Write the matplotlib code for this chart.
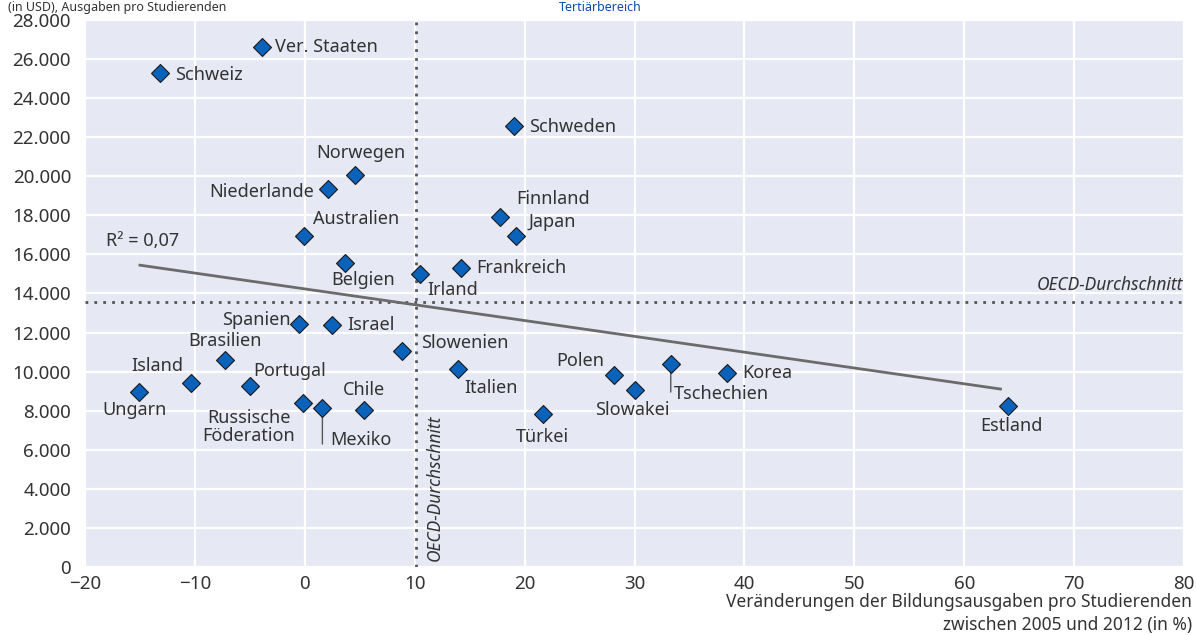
import matplotlib
matplotlib.use("Agg")
import matplotlib.pyplot as plt
from matplotlib.ticker import FuncFormatter

plt.rcParams['font.family'] = ['Noto Sans', 'DejaVu Sans']

countries = ["Ver. Staaten", "Schweiz", "Schweden", "Norwegen", "Niederlande", "Finnland",
             "Japan", "Australien", "Belgien", "Irland", "Frankreich", "Spanien", "Israel",
             "Slowenien", "Brasilien", "Island", "Ungarn", "Portugal", "Russische\nFöderation",
             "Mexiko", "Chile", "Italien", "Türkei", "Polen", "Slowakei", "Tschechien",
             "Korea", "Estland"]
change_pct = [-3.9, -13.2, 19.0, 4.6, 2.1, 17.8, 19.2, -0.1, 3.7, 10.5, 14.2, -0.5, 2.5,
              8.8, -7.3, -10.4, -15.1, -5.0, -0.2, 1.6, 5.4, 13.9, 21.7, 28.1, 30.0, 33.3,
              38.4, 64.0]
spend = [26600, 25300, 22550, 20050, 19330, 17900, 16950, 16950, 15550, 15000, 15300,
         12450, 12400, 11050, 10600, 9430, 8970, 9270, 8400, 8150, 8030, 10130, 7830,
         9830, 9070, 10400, 9930, 8240]

trend_x = [-15.0, 63.3]
trend_y = [15450, 9110]
oecd_x = 10.1
oecd_y = 13550
r2_text = "R² = 0,07"

# label offsets in pixels (dx, dy up), alignment
label_style = {
    "Ver. Staaten": (13, 0, 'left'), "Schweiz": (15, -2, 'left'), "Schweden": (15, -1, 'left'),
    "Norwegen": (6, 22, 'center'), "Niederlande": (-14, -3, 'right'),
    "Finnland": (16, 18, 'left'), "Japan": (13, 14, 'left'), "Australien": (9, 17, 'left'),
    "Belgien": (18, -17, 'center'), "Irland": (7, -16, 'left'), "Frankreich": (15, 0, 'left'),
    "Spanien": (-9, 4, 'right'), "Israel": (15, 0, 'left'), "Slowenien": (20, 8, 'left'),
    "Brasilien": (0, 19, 'center'), "Island": (-7, 17, 'right'), "Ungarn": (-4, -18, 'center'),
    "Portugal": (3, 15, 'left'), "Russische\nFöderation": (-54, -24, 'center'),
    "Mexiko": (8, -32, 'left'), "Chile": (0, 20, 'center'), "Italien": (7, -19, 'left'),
    "Türkei": (-1, -23, 'center'), "Polen": (-9, 14, 'right'), "Slowakei": (-2, -20, 'center'),
    "Tschechien": (3, -30, 'left'), "Korea": (15, 0, 'left'), "Estland": (3, -20, 'center'),
}
leaders = {"Mexiko": 39, "Tschechien": 31}

txt = '#333333'
fs = 13
fig = plt.figure(figsize=(11.96, 6.35), dpi=100)
ax = fig.add_axes([85/1196, 1-567/635, (1184-85)/1196, (567-20)/635])
ax.set_facecolor('#E6E8F4')
ax.set_xlim(-20, 80)
ax.set_ylim(0, 28000)
ax.set_xticks(range(-20, 81, 10))
ax.set_yticks(range(0, 28001, 2000))
ax.yaxis.set_major_formatter(FuncFormatter(lambda v, p: f"{int(v):,}".replace(",", ".")))
ax.xaxis.set_major_formatter(FuncFormatter(lambda v, p: f"{int(v)}".replace("-", "\u2212")))
ax.grid(True, color='white', lw=1.6)
ax.set_axisbelow(True)
for s in ax.spines.values():
    s.set_visible(False)
ax.tick_params(length=0, labelsize=13.5, colors=txt)
ax.tick_params(axis='x', pad=6)
ax.tick_params(axis='y', pad=10)

ax.axvline(oecd_x, color='#555555', ls=(0, (1, 2.2)), lw=2, zorder=2)
ax.axhline(oecd_y, color='#555555', ls=(0, (1, 2.2)), lw=2, zorder=2)
ax.plot(trend_x, trend_y, color='#6b6b6b', lw=2, zorder=3)

for c, x, y in zip(countries, change_pct, spend):
    dx, dy, ha = label_style[c]
    ax.annotate(c, (x, y), xytext=(dx, dy), textcoords='offset pixels', ha=ha, va='center',
                fontsize=fs, color=txt, zorder=5, linespacing=1.0)
    if c in leaders:
        ax.annotate('', (x, y), xytext=(0, -leaders[c]), textcoords='offset pixels',
                    arrowprops=dict(arrowstyle='-', color='#555555', lw=1), zorder=3)

ax.plot(change_pct, spend, ls='none', marker='D', ms=9, mfc='#0A62BA', mec='#1a1a1a',
        mew=0.8, zorder=6, clip_on=False)

ax.text(-18.1, 16680, r2_text, fontsize=fs, color=txt, va='center', ha='left')
ax.text(79.9, 14420, "OECD-Durchschnitt", fontsize=fs - 0.5, color=txt, style='italic',
        ha='right', va='center')
ax.text(11.8, 300, "OECD-Durchschnitt", fontsize=fs - 0.5, color=txt, style='italic',
        rotation=90, ha='center', va='bottom')

ax.set_xlabel("Veränderungen der Bildungsausgaben pro Studierenden\nzwischen 2005 und 2012 (in %)",
              fontsize=12.5, color=txt, ha='right', x=1.007, labelpad=0, linespacing=1.3)

fig.text(600/1196, 1-1/635, "Tertiärbereich", fontsize=9, color='#0A4FAF',
         fontweight='bold', ha='center', va='top')
fig.text(8/1196, 1-1/635, "(in USD), Ausgaben pro Studierenden", fontsize=9, color=txt,
         ha='left', va='top')

fig.savefig("out.png", dpi=100)
